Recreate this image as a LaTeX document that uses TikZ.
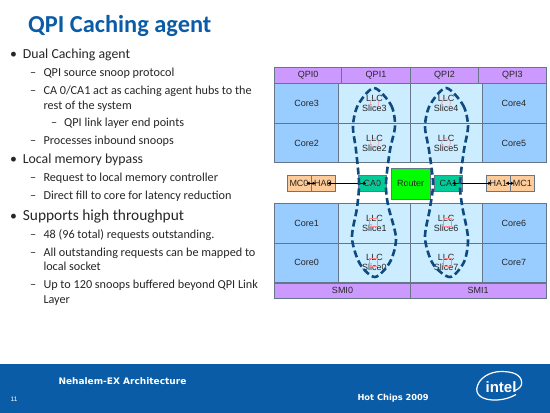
\documentclass[tikz,border=0pt]{standalone}
\usepackage{fontspec}
\usetikzlibrary{arrows.meta, positioning}
\newfontfamily\bodyfont{Carlito}
\newfontfamily\chipfont{Liberation Sans}
\newfontfamily\footfont{DejaVu Sans}
\definecolor{titleblue}{HTML}{0B5CA6}
\definecolor{bandblue}{HTML}{0A5CA6}
\definecolor{loopblue}{HTML}{0C4A80}
\definecolor{cellline}{HTML}{66768A}
\definecolor{qpipurple}{HTML}{CC99FF}
\definecolor{coreblue}{HTML}{99CCFF}
\definecolor{llcblue}{HTML}{CCECFF}
\definecolor{haorange}{HTML}{FFCC99}
\definecolor{cateal}{HTML}{00CC99}
\definecolor{routergreen}{HTML}{00FF00}
\definecolor{textgrey}{HTML}{262626}

\begin{document}
\begin{tikzpicture}[x=1pt, y=-1pt,
    cell/.style = {draw=cellline, line width=0.8pt, inner sep=0pt, outer sep=0pt, text=textgrey, align=center,
        font=\chipfont\fontsize{9}{10}\selectfont},
    qpi/.style = {cell, fill=qpipurple, minimum height=15.6pt},
    core/.style = {cell, fill=coreblue, minimum width=64pt, minimum height=39.7pt},
    llc/.style = {cell, fill=llcblue, minimum width=71.6pt, minimum height=39.7pt},
    hub/.style = {cell, fill=haorange, minimum width=24pt, minimum height=16.7pt},
    agent/.style = {cell, fill=cateal, minimum width=28pt, minimum height=16.7pt},
    ring/.style = {draw=red!45, line width=0.4pt, circle, inner sep=0pt, minimum size=9pt},
    tag/.style = {draw=red!45, line width=0.4pt, inner sep=0pt, minimum size=8pt},
    link/.style = {black, line width=0.7pt, {Latex[length=3.5pt,width=3.5pt]}-{Latex[length=3.5pt,width=3.5pt]}},
    loopline/.style = {draw=loopblue, line width=2.6pt, dash pattern=on 7pt off 3.5pt},
    lvlone/.style = {anchor=base west, inner sep=0pt, text=textgrey, font=\bodyfont\fontsize{13.8}{15}\selectfont},
    lvltwo/.style = {anchor=base west, inner sep=0pt, text=textgrey, font=\bodyfont\fontsize{12.2}{14}\selectfont},
    foot/.style = {anchor=base west, inner sep=0pt, text=white, font=\footfont\bfseries\fontsize{9}{11}\selectfont}]

    \useasboundingbox (0,0) rectangle (550,413);
    \fill[bandblue] (0,364) rectangle (550,413);

    % slide text
    \node[anchor=base west, inner sep=0pt, text=titleblue, font=\bodyfont\bfseries\fontsize{24.4}{30}\selectfont] (title) at (28,32) {QPI Caching agent};

    \node[lvlone] (b1) at (10,58) {•};
    \node[lvlone] (t1) at (22.7,58) {Dual Caching agent};
    \node[lvltwo] (d1) at (30,76.3) {–};
    \node[lvltwo] (t2) at (43.3,76.3) {QPI source snoop protocol};
    \node[lvltwo] (d2) at (30,94) {–};
    \node[lvltwo] (t3) at (43.3,94) {CA 0/CA1 act as caching agent hubs to the};
    \node[lvltwo] (t4) at (43.3,109) {rest of the system};
    \node[lvltwo] (d3) at (51,126.3) {–};
    \node[lvltwo] (t5) at (64,126.3) {QPI link layer end points};
    \node[lvltwo] (d4) at (30,144) {–};
    \node[lvltwo] (t6) at (43.3,144) {Processes inbound snoops};
    \node[lvlone] (b2) at (10,163) {•};
    \node[lvlone] (t7) at (22.7,163) {Local memory bypass};
    \node[lvltwo] (d5) at (30,181.3) {–};
    \node[lvltwo] (t8) at (43.3,181.3) {Request to local memory controller};
    \node[lvltwo] (d6) at (30,199) {–};
    \node[lvltwo] (t9) at (43.3,199) {Direct fill to core for latency reduction};
    \node[lvlone] (b3) at (10,220) {•};
    \node[lvlone, font=\bodyfont\fontsize{15.4}{18}\selectfont] (t10) at (22.7,220) {Supports high throughput};
    \node[lvltwo] (d7) at (30,238.3) {–};
    \node[lvltwo] (t11) at (43.3,238.3) {48 (96 total) requests outstanding.};
    \node[lvltwo] (d8) at (30,256) {–};
    \node[lvltwo] (t12) at (43.3,256) {All outstanding requests can be mapped to};
    \node[lvltwo] (t13) at (43.3,270.7) {local socket};
    \node[lvltwo] (d9) at (30,288.3) {–};
    \node[lvltwo] (t14) at (43.3,288.3) {Up to 120 snoops buffered beyond QPI Link};
    \node[lvltwo] (t15) at (43.3,303.3) {Layer};

    % top half
    \node[qpi, minimum width=67pt] (qpi0) at (308.2,75.5) {QPI0};
    \node[qpi, minimum width=68.6pt, right=0pt of qpi0] (qpi1) {QPI1};
    \node[qpi, minimum width=68.4pt, right=0pt of qpi1] (qpi2) {QPI2};
    \node[qpi, minimum width=67.3pt, right=0pt of qpi2] (qpi3) {QPI3};
    \node[core] (core3) at (306.7,103.3) {Core3};
    \node[core, below=0pt of core3] (core2) {Core2};
    \node[llc, right=0pt of core3] (slice3) {LLC\\Slice3};
    \node[llc, right=0pt of core2] (slice2) {LLC\\Slice2};
    \node[llc, right=0pt of slice3] (slice4) {LLC\\Slice4};
    \node[llc, right=0pt of slice2] (slice5) {LLC\\Slice5};
    \node[core, right=0pt of slice4] (core4) {Core4};
    \node[core, right=0pt of slice5] (core5) {Core5};

    % middle row
    \node[hub] (mc0) at (299,183.3) {MC0};
    \node[hub, right=0pt of mc0] (ha0) {HA0};
    \node[agent] (ca0) at (372.5,183.3) {CA0};
    \node[cell, fill=routergreen, minimum width=38.7pt, minimum height=30.7pt] (router) at (410.7,183.6) {Router};
    \node[agent] (ca1) at (448.3,183.3) {CA1};
    \node[hub] (ha1) at (498.3,183.3) {HA1};
    \node[hub, right=0pt of ha1] (mc1) {MC1};

    % bottom half
    \node[core] (core1) at (306.7,223.1) {Core1};
    \node[core, below=0pt of core1] (core0) {Core0};
    \node[llc, right=0pt of core1] (slice1) {LLC\\Slice1};
    \node[llc, right=0pt of core0] (slice0) {LLC\\Slice0};
    \node[llc, right=0pt of slice1] (slice6) {LLC\\Slice6};
    \node[llc, right=0pt of slice0] (slice7) {LLC\\Slice7};
    \node[core, right=0pt of slice6] (core6) {Core6};
    \node[core, right=0pt of slice7] (core7) {Core7};
    \node[qpi, minimum width=135.6pt] (smi0) at (342.5,290.8) {SMI0};
    \node[qpi, minimum width=135.7pt, right=0pt of smi0] (smi1) {SMI1};

    % small marks over the slices
    \node[ring] (m3) at (slice3) {};
    \node[ring] (m2) at (slice2) {};
    \node[ring] (m4) at (slice4) {};
    \node[ring] (m5) at (slice5) {};
    \node[ring, draw=black!45] (m8) at (ca0) {};
    \node[tag] (m1) at (373.3,221.7) {};
    \node[tag] (m6) at (446.7,221.7) {};
    \node[tag] (m0) at (373.3,261.7) {};
    \node[tag] (m7) at (446.7,261.7) {};

    % the links
    \path[link] ([xshift=-5pt]mc0.east) edge ([xshift=5pt]ha0.west);
    \path[link] ([xshift=4pt]ha0.center) edge ([xshift=-6pt]ca0.center);
    \path[link] ([xshift=3.5pt]ca1.center) edge ([xshift=-6.5pt]ha1.center);
    \path[link] ([xshift=-5pt]ha1.east) edge ([xshift=4pt]mc1.west);

    % the two rings
    \draw[loopline] plot[smooth cycle] coordinates {(374,88) (391,105) (395,126) (390,150) (386,183) (388,205) (396,238) (390,262) (375,277) (360,264) (352,238) (357,208) (359,183) (356,150) (353,126) (358,105)};
    \draw[loopline] plot[smooth cycle] coordinates {(446,88) (463,105) (468,126) (464,150) (460,183) (462,205) (468,238) (464,262) (450,277) (433,264) (425,238) (430,208) (433,183) (429,150) (425,126) (430,105)};

    % footer
    \node[foot] (arch) at (58.3,384) {Nehalem-EX Architecture};
    \node[foot, font=\footfont\bfseries\fontsize{8.3}{10}\selectfont] (hot) at (357.3,400.3) {Hot Chips 2009};
    \node[anchor=base west, inner sep=0pt, text=white, font=\chipfont\fontsize{6.5}{8}\selectfont] (num) at (10.5,401) {11};
    \node[anchor=base, inner sep=0pt, text=white, font=\chipfont\bfseries\fontsize{15}{17}\selectfont] (intel) at (501,392.3) {intel};
    \draw[white, line width=1.2pt] (476.7,389) .. controls (478,378) and (490,371.5) .. (501,371.5) .. controls (512,371.5) and (521.5,374) .. (521.7,383) .. controls (521.8,386) and (519,389) .. (515,390.5);
    \draw[white, line width=1.2pt] (476.7,389) .. controls (476.5,398) and (488,400.5) .. (497,400) .. controls (504,399.7) and (511,397.5) .. (516,394.5);
\end{tikzpicture}
\end{document}
